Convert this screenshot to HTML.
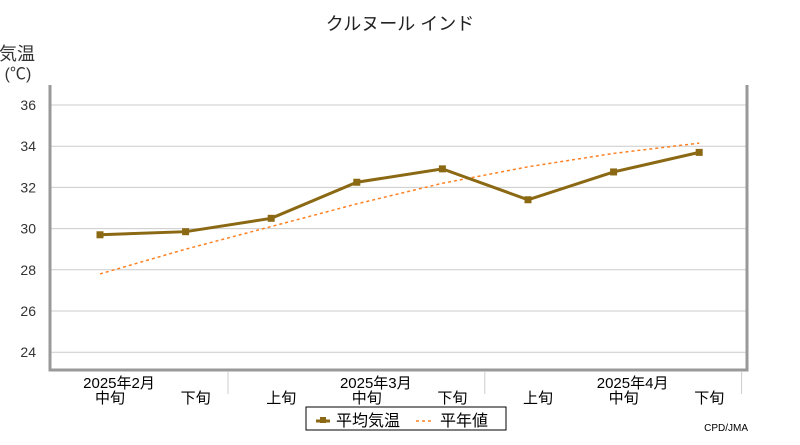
<!DOCTYPE html>
<html><head><meta charset="utf-8"><style>
body{margin:0;background:#fff;}
svg text{font-family:"Liberation Sans","Noto Sans CJK JP",sans-serif;}
</style></head><body>
<svg width="800" height="440" viewBox="0 0 800 440" xmlns="http://www.w3.org/2000/svg">
<text x="400" y="30" text-anchor="middle" font-size="18" fill="#222">クルヌール インド</text>
<text x="17" y="60" text-anchor="middle" font-size="18" fill="#333">気温</text>
<text x="18" y="79" text-anchor="middle" font-size="16" fill="#333">(℃)</text>
<g id="grid"></g>
<path d="M50,85 V370 H747 V85" fill="none" stroke="#999" stroke-width="3"/>
<g id="xaxis"></g>
<g id="series"></g>
<g>
<rect x="306" y="407" width="200" height="23" fill="#fff" stroke="#000"/>
<line x1="316" y1="421" x2="330" y2="421" stroke="#8b6914" stroke-width="3"/>
<rect x="320" y="417" width="6" height="6" fill="#8b6914"/>
<text x="336" y="426" font-size="16" fill="#000">平均気温</text>
<line x1="416" y1="421" x2="434" y2="421" stroke="#ff8020" stroke-width="1.5" stroke-dasharray="3,3"/>
<text x="440" y="426" font-size="16" fill="#000">平年値</text>
</g>
<text x="748" y="431" text-anchor="end" font-size="10" font-family="Liberation Mono" fill="#000">CPD/JMA</text>
<script>
const categories=["中旬","下旬","上旬","中旬","下旬","上旬","中旬","下旬"];
const monthLabels=["2025年2月","2025年3月","2025年4月"];
const avgTemp=[29.7,29.85,30.5,32.25,32.9,31.4,32.75,33.7];
const normalTemp=[27.8,29.0,30.1,31.2,32.2,33.0,33.65,34.15];
const yTicks=[24,26,28,30,32,34,36];
const NS="http://www.w3.org/2000/svg";
const xs=i=>100+i*85.6;
const ys=v=>105+(36-v)*20.6;
function mk(t,a,p){const e=document.createElementNS(NS,t);for(const k in a)e.setAttribute(k,a[k]);p.appendChild(e);return e;}
const grid=document.getElementById('grid');
yTicks.forEach(v=>{
 const l=mk('line',{x1:50,x2:747,y1:ys(v),y2:ys(v),stroke:'#ccc','stroke-width':1},grid);
 
 
 const t=mk('text',{x:36,y:ys(v)+5,'text-anchor':'end','font-size':14,fill:'#333'},grid);
 t.textContent=v;
 
 
});
const xa=document.getElementById('xaxis');
categories.forEach((c,i)=>{
 const t=mk('text',{x:xs(i)+10,y:403,'text-anchor':'middle','font-size':15,fill:'#000'},xa);
 t.textContent=c;
 
 
});
monthLabels.forEach((m,k)=>{
 const i=k*3;
 const t=mk('text',{x:xs(i)+19,y:388,'text-anchor':'middle','font-size':15,fill:'#000'},xa);
 t.textContent=m;
 
 
 const d=mk('line',{x1:xs(i)+128,x2:xs(i)+128,y1:372,y2:394,stroke:'#ccc'},xa);
 
 
});
const s=document.getElementById('series');
const np=mk('polyline',{points:normalTemp.map((v,i)=>xs(i)+','+ys(v)).join(' '),fill:'none',stroke:'#ff8020','stroke-width':1.5,'stroke-dasharray':'3,3'},s);


const ap=mk('polyline',{points:avgTemp.map((v,i)=>xs(i)+','+ys(v)).join(' '),fill:'none',stroke:'#8b6914','stroke-width':3},s);


avgTemp.forEach((v,i)=>{
 const r=mk('rect',{x:xs(i)-3.5,y:ys(v)-3.5,width:7,height:7,fill:'#8b6914'},s);
 
 
});
</script>
</svg>
</body></html>
